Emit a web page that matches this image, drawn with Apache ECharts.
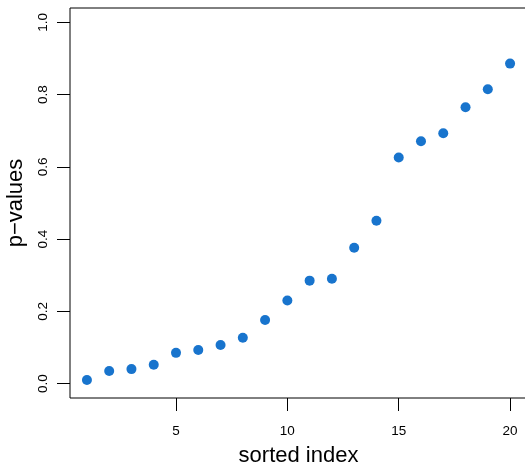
<!DOCTYPE html>
<html>
<head>
<meta charset="utf-8">
<script src="https://cdn.jsdelivr.net/npm/echarts@6/dist/echarts.min.js"></script>
<style>html,body{margin:0;padding:0;background:#fff}#c{width:525px;height:466px}</style>
</head>
<body>
<div id="c"></div>
<script>
const sortedIndex = [1,2,3,4,5,6,7,8,9,10,11,12,13,14,15,16,17,18,19,20];
const pValues = [0.010,0.035,0.040,0.052,0.085,0.093,0.107,0.127,0.176,0.230,0.285,0.290,0.376,0.451,0.626,0.671,0.693,0.765,0.815,0.886];
const xTicks = [5,10,15,20];
const yTicks = [0.0,0.2,0.4,0.6,0.8,1.0];

const font = 'Liberation Sans, Arial, sans-serif';
const chart = echarts.init(document.getElementById('c'), null, {renderer:'canvas'});
chart.setOption({
  animation:false,
  backgroundColor:'#fff',
  grid:{left:70, top:8, width:457, height:390, show:true, borderColor:'#000', borderWidth:1,
        backgroundColor:'transparent', outerBoundsMode:'none', containLabel:false},
  xAxis:{
    type:'value', min:0.24, max:20.76,
    name:'sorted index', nameLocation:'middle', nameGap:47,
    nameTextStyle:{fontFamily:font, fontSize:22, color:'#000'},
    axisLine:{show:false, onZero:false},
    splitLine:{show:false},
    axisTick:{show:true, inside:false, length:13, customValues:xTicks, lineStyle:{color:'#000', width:1}},
    axisLabel:{customValues:xTicks, margin:26, fontFamily:font, fontSize:13.5, color:'#000'}
  },
  yAxis:{
    type:'value', min:-0.04, max:1.04,
    name:'p\u2212values', nameLocation:'middle', nameGap:43, nameRotate:90,
    nameTextStyle:{fontFamily:font, fontSize:22, color:'#000'},
    axisLine:{show:false, onZero:false},
    splitLine:{show:false},
    axisTick:{show:true, inside:false, length:13, customValues:yTicks, lineStyle:{color:'#000', width:1}},
    axisLabel:{customValues:yTicks, rotate:90, margin:20, fontFamily:font, fontSize:13.5, color:'#000',
      formatter:v=>v.toFixed(1)}
  },
  series:[{
    type:'scatter',
    data:sortedIndex.map((x,i)=>[x,pValues[i]]),
    symbol:'circle', symbolSize:10,
    itemStyle:{color:'#1874CD', opacity:1}
  }]
});
</script>
</body>
</html>
